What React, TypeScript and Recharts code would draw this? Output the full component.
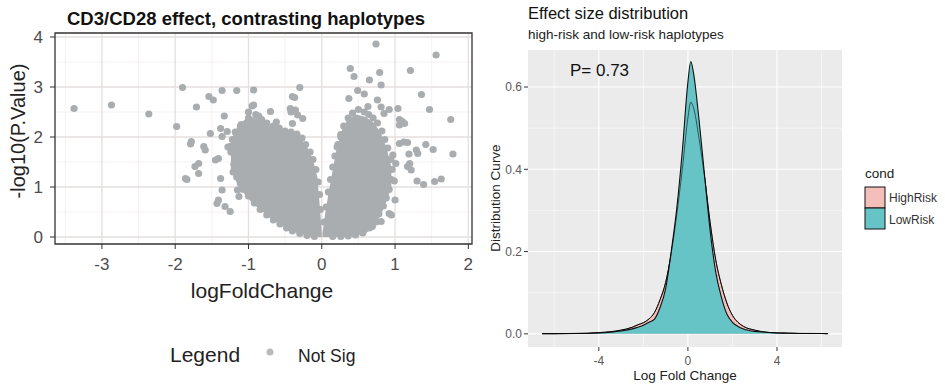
import React from 'react';
import { ComposedChart, Scatter, Area, Line, XAxis, YAxis, CartesianGrid, ReferenceArea } from 'recharts';

// ---------- Volcano plot (left) ----------
const volcanoXTicks = [-3, -2, -1, 0, 1, 2];
const volcanoYTicks = [0, 1, 2, 3, 4];
const volcanoXMinor = [-3.5, -2.5, -1.5, -0.5, 0.5, 1.5];
const volcanoYMinor = [0.5, 1.5, 2.5, 3.5];

// dense "Not Sig" body of the volcano (range of -log10 p for each logFC)
const leftLobeV = [-1.24, -1.15, -1.05, -0.93, -0.8, -0.7, -0.56, -0.45, -0.33, -0.2, -0.12, -0.06, -0.02, 0.0];
const leftLobeLow = [1.35, 1.05, 0.85, 0.65, 0.5, 0.38, 0.25, 0.16, 0.08, 0.03, 0.0, 0.0, 0.0, 0.0];
const leftLobeHigh = [1.95, 2.2, 2.35, 2.4, 2.3, 2.22, 2.15, 2.1, 2.05, 1.8, 1.55, 1.2, 0.5, 0.08];

const rightLobeV = [0.01, 0.05, 0.1, 0.15, 0.2, 0.28, 0.35, 0.47, 0.6, 0.7, 0.8, 0.88, 0.95];
const rightLobeLow = [0.0, 0.0, 0.0, 0.0, 0.0, 0.0, 0.0, 0.02, 0.07, 0.2, 0.42, 0.7, 1.0];
const rightLobeHigh = [0.08, 0.5, 0.94, 1.35, 1.75, 2.15, 2.35, 2.45, 2.4, 2.3, 2.1, 1.8, 1.4];

const leftOutliers: [number, number][] = [
  [-3.38, 2.57], [-2.87, 2.64], [-2.36, 2.46], [-1.98, 2.21], [-1.9, 2.99], [-1.71, 2.6], [-1.54, 2.81],
  [-1.48, 2.74], [-1.36, 2.93], [-1.16, 2.93], [-0.93, 2.94], [-1.84, 1.15], [-1.79, 1.86], [-1.78, 1.91],
  [-1.61, 1.81], [-1.59, 1.74], [-1.73, 1.41], [-1.68, 1.27], [-1.68, 1.47], [-1.86, 1.17], [-1.52, 2.07],
  [-1.45, 1.54], [-1.41, 1.57], [-1.38, 1.17], [-1.38, 2.17], [-1.36, 2.01], [-1.33, 2.42], [-1.29, 2.11],
  [-1.25, 1.81], [-1.11, 2.21], [-1.36, 0.94], [-1.41, 0.74], [-1.43, 0.67], [-1.32, 0.61], [-1.25, 0.51],
  [-1.15, 0.94], [-1.13, 0.81], [-1.11, 1.07], [-0.95, 2.62], [-0.93, 2.64], [-0.7, 2.51], [-0.4, 2.81],
  [-0.43, 2.57], [-0.36, 2.54], [-0.42, 2.5], [-0.33, 2.44], [-0.4, 2.27], [-0.3, 2.99], [-0.26, 2.37],
  [-0.37, 2.79],
];

const rightOutliers: [number, number][] = [
  [0.74, 3.86], [1.56, 3.64], [0.39, 3.37], [0.44, 3.21], [0.79, 3.29], [0.65, 3.14], [0.81, 3.04],
  [1.21, 3.33], [1.36, 2.85], [0.37, 2.77], [0.49, 2.93], [0.58, 2.86], [0.63, 2.61], [0.76, 2.74],
  [0.81, 2.6], [0.92, 2.55], [0.85, 2.47], [1.04, 2.57], [1.47, 2.55], [1.76, 2.35], [1.79, 1.66],
  [1.52, 1.75], [1.42, 1.85], [1.31, 1.67], [1.19, 1.66], [1.17, 1.89], [1.06, 1.87], [1.12, 1.9],
  [1.13, 2.27], [1.06, 2.35], [1.1, 2.31], [1.06, 2.24], [1.54, 1.11], [1.63, 1.16], [1.3, 1.12],
  [1.39, 1.05], [0.99, 1.12], [1.2, 1.47], [1.17, 1.41], [1.22, 1.34], [1.29, 1.74], [1.01, 1.47],
  [0.97, 1.64], [1.0, 0.74], [0.95, 0.44], [0.81, 0.31], [0.69, 0.21], [0.92, 0.47], [0.74, 0.3],
];

const edgePoints: [number, number][] = [
  [-1.22, 1.95], [-1.24, 1.7], [-1.2, 1.45], [-1.16, 1.2], [-1.08, 1.0], [-1.0, 0.82], [-0.92, 0.68],
  [-0.84, 0.55], [-0.75, 0.44], [-0.66, 0.34], [-0.57, 0.26], [-0.48, 0.18], [-0.4, 0.12], [-0.3, 0.07],
  [-0.2, 0.03], [-0.1, 0.01], [-1.18, 2.1], [-1.1, 2.25], [-1.0, 2.38], [-0.9, 2.45], [-0.82, 2.35],
  [-0.75, 2.28], [-0.66, 2.22], [-0.58, 2.18], [-0.5, 2.12], [-0.42, 2.1], [-0.34, 2.06], [-0.27, 1.98],
  [-0.22, 1.85], [-0.16, 1.7], [-0.12, 1.55], [-0.08, 1.35], [-0.05, 1.1], [-0.03, 0.85], [-0.02, 0.55],
  [-1.0, 2.5], [-0.86, 2.42], [-0.62, 2.3], [-1.28, 1.8], [-1.21, 1.3], [-1.07, 0.95],
  [0.03, 0.3], [0.06, 0.6], [0.09, 0.9], [0.12, 1.15], [0.15, 1.4], [0.18, 1.62], [0.22, 1.85],
  [0.26, 2.05], [0.3, 2.22], [0.36, 2.38], [0.42, 2.48], [0.5, 2.55], [0.58, 2.5], [0.64, 2.45],
  [0.7, 2.38], [0.76, 2.28], [0.82, 2.12], [0.86, 1.95], [0.9, 1.78], [0.94, 1.55], [0.96, 1.35],
  [0.95, 1.15], [0.92, 0.95], [0.88, 0.78], [0.84, 0.62], [0.78, 0.46], [0.72, 0.32], [0.65, 0.18],
  [0.56, 0.08], [0.46, 0.04], [0.36, 0.02], [0.26, 0.01], [0.15, 0.01], [0.31, 2.21], [0.26, 2.0],
  [0.21, 1.8],
];

// ---------- Density plot (right) ----------
const densityX = [-6.54, -6, -5, -4.5, -4, -3.5, -3, -2.5, -2.25, -2, -1.75, -1.5, -1.25, -1, -0.75, -0.5,
  -0.25, 0, 0.13, 0.25, 0.5, 0.75, 1, 1.25, 1.5, 1.75, 2, 2.25, 2.5, 3, 3.5, 4, 4.5, 5, 6, 6.28];
const highRisk = [0.0005, 0.0005, 0.001, 0.0015, 0.003, 0.005, 0.009, 0.016, 0.022, 0.027, 0.036, 0.052,
  0.083, 0.125, 0.195, 0.29, 0.4, 0.525, 0.563, 0.55, 0.475, 0.38, 0.27, 0.18, 0.12, 0.075, 0.045, 0.028,
  0.018, 0.009, 0.004, 0.002, 0.0015, 0.001, 0.0008, 0.0005];
const lowRisk = [0.0005, 0.0005, 0.0008, 0.001, 0.002, 0.004, 0.007, 0.012, 0.016, 0.021, 0.028, 0.036,
  0.064, 0.11, 0.2, 0.305, 0.445, 0.612, 0.662, 0.635, 0.52, 0.385, 0.25, 0.15, 0.09, 0.048, 0.028, 0.018,
  0.012, 0.006, 0.004, 0.002, 0.0015, 0.001, 0.0008, 0.0005];
const densXTicks = [-4, 0, 4];
const densYTicks = [0, 0.2, 0.4, 0.6];
const densXMinor = [-6, -2, 2, 6];
const densYMinor = [0.1, 0.3, 0.5];

const FONT = '"Liberation Sans", Arial, sans-serif';
const DOT = '#AAADAF';

const leftLobe = leftLobeV.map((v, i) => ({ v, range: [leftLobeLow[i], leftLobeHigh[i]] }));
const rightLobe = rightLobeV.map((v, i) => ({ v, range: [rightLobeLow[i], rightLobeHigh[i]] }));
const scatterData = [...leftOutliers, ...rightOutliers, ...edgePoints].map(([v, p]) => ({ v, p }));
const densityData = densityX.map((x, i) => ({ x, high: highRisk[i], low: lowRisk[i] }));

const GrayDot = (props: any) => <circle cx={props.cx} cy={props.cy} r={3.6} fill={DOT} />;

export default function App() {
  return (
    <div style={{ position: 'absolute', left: 0, top: 0, width: 945, height: 384, background: '#fff', fontFamily: FONT }}>
      <div style={{ position: 'absolute', left: 0, top: 0 }}>
        <ComposedChart width={480} height={384} margin={{ top: 33, right: 8, left: 10, bottom: 110 }}>
          <CartesianGrid verticalValues={volcanoXMinor} horizontalValues={volcanoYMinor} stroke="#F3EEEE" strokeWidth={0.8} />
          <CartesianGrid verticalValues={volcanoXTicks} horizontalValues={volcanoYTicks} stroke="#E5DFDF" strokeWidth={1.3} />
          <XAxis type="number" dataKey="v" domain={[-3.64, 2.05]} ticks={volcanoXTicks} allowDataOverflow
            axisLine={false} tickLine={{ stroke: '#333' }} tickSize={5} tickMargin={9} height={30}
            tick={{ fill: '#4D4D4D', fontSize: 17, fontFamily: FONT }} />
          <YAxis type="number" dataKey="p" domain={[-0.14, 4.08]} ticks={volcanoYTicks} allowDataOverflow
            axisLine={false} tickLine={{ stroke: '#333' }} tickSize={5} tickMargin={7} width={45}
            tick={{ fill: '#4D4D4D', fontSize: 17, fontFamily: FONT }} />
          <Area data={leftLobe} dataKey="range" type="linear" stroke="none" fill={DOT} fillOpacity={1} isAnimationActive={false} />
          <Area data={rightLobe} dataKey="range" type="linear" stroke="none" fill={DOT} fillOpacity={1} isAnimationActive={false} />
          <Scatter data={scatterData} shape={GrayDot} isAnimationActive={false} />
          <ReferenceArea x1={-3.64} x2={2.05} y1={-0.14} y2={4.08} fill="none" stroke="#333" strokeWidth={1.3} ifOverflow="visible" />
        </ComposedChart>
      </div>
      <div style={{ position: 'absolute', left: 480, top: 0 }}>
        <ComposedChart width={465} height={384} data={densityData} margin={{ top: 50, right: 103, left: 18, bottom: 17 }}>
          <CartesianGrid fill="#EBEBEB" verticalValues={densXMinor} horizontalValues={densYMinor} stroke="#FFFFFF" strokeWidth={0.5} />
          <CartesianGrid verticalValues={densXTicks} horizontalValues={densYTicks} stroke="#FFFFFF" strokeWidth={1.1} />
          <XAxis type="number" dataKey="x" domain={[-7.18, 6.92]} ticks={densXTicks} allowDataOverflow
            axisLine={false} tickLine={{ stroke: '#333' }} tickSize={4} tickMargin={5} height={20}
            tick={{ fill: '#5A5A5A', fontSize: 12, fontFamily: FONT }} />
          <YAxis type="number" domain={[-0.032, 0.69]} ticks={densYTicks} allowDataOverflow
            tickFormatter={(t: number) => t.toFixed(1)}
            axisLine={false} tickLine={{ stroke: '#333' }} tickSize={4} tickMargin={2} width={30}
            tick={{ fill: '#5A5A5A', fontSize: 12, fontFamily: FONT }} />
          <Area dataKey="high" type="monotone" baseValue={0} fill="#F4BFBA" fillOpacity={1} stroke="#111" strokeWidth={1} isAnimationActive={false} />
          <Area dataKey="low" type="monotone" baseValue={0} fill="#66C3C6" fillOpacity={1} stroke="#111" strokeWidth={1.1} isAnimationActive={false} />
          <Line dataKey="high" type="monotone" stroke="#000" strokeOpacity={0.55} strokeWidth={1} dot={false} isAnimationActive={false} />
        </ComposedChart>
      </div>
      <svg width={945} height={384} style={{ position: 'absolute', left: 0, top: 0, pointerEvents: 'none' }}>
        <text x={67} y={25} fontSize={17.5} fontWeight="bold" fill="#111" textLength={358} lengthAdjust="spacingAndGlyphs" fontFamily={FONT}>
          CD3/CD28 effect, contrasting  haplotypes
        </text>
        <text x={25} y={131} fontSize={20} fill="#222" textAnchor="middle" transform="rotate(-90 25 131)" fontFamily={FONT}>
          -log10(P.Value)
        </text>
        <text x={262} y={298} fontSize={21} fill="#222" textAnchor="middle" fontFamily={FONT}>logFoldChange</text>
        <text x={170} y={362} fontSize={21} fill="#222" fontFamily={FONT}>Legend</text>
        <circle cx={270} cy={352} r={3.5} fill="#B8BABC" />
        <text x={298} y={362} fontSize={17.5} fill="#222" fontFamily={FONT}>Not Sig</text>

        <text x={528} y={18.5} fontSize={16.5} fill="#111" fontFamily={FONT}>Effect size distribution</text>
        <text x={528} y={39} fontSize={13.5} fill="#222" fontFamily={FONT}>high-risk and low-risk haplotypes</text>
        <text x={570} y={76} fontSize={17} fill="#111" fontFamily={FONT}>P= 0.73</text>
        <text x={500} y={198} fontSize={13.5} fill="#222" textAnchor="middle" transform="rotate(-90 500 198)" fontFamily={FONT}>
          Distribution Curve
        </text>
        <text x={685} y={380} fontSize={13.5} fill="#222" textAnchor="middle" fontFamily={FONT}>Log Fold Change</text>
        <text x={865} y={178} fontSize={13.5} fill="#222" fontFamily={FONT}>cond</text>
        <rect x={865} y={187} width={20} height={21} fill="#F4BFBA" stroke="#111" strokeWidth={1} />
        <rect x={865} y={208} width={20} height={21} fill="#66C3C6" stroke="#111" strokeWidth={1} />
        <text x={889} y={202} fontSize={12} fill="#333" fontFamily={FONT}>HighRisk</text>
        <text x={889} y={223.5} fontSize={12} fill="#333" fontFamily={FONT}>LowRisk</text>
      </svg>
    </div>
  );
}
